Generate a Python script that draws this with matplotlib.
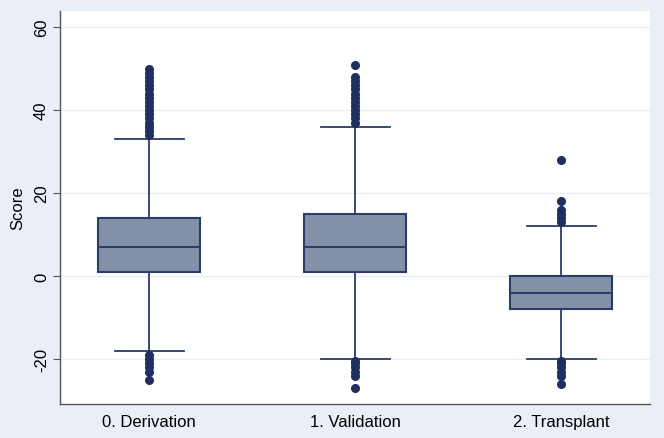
import matplotlib
matplotlib.use("Agg")
import matplotlib.pyplot as plt

plt.rcParams["font.family"] = ["Liberation Sans", "DejaVu Sans"]

categories = ["0. Derivation", "1. Validation", "2. Transplant"]
q1 = [1, 1, -8]
median = [7, 7, -4]
q3 = [14, 15, 0]
whisker_low = [-18, -20, -20]
whisker_high = [33, 36, 12]
outliers = [
    list(range(34, 51)) + [-19, -20, -21, -22, -23, -25],
    list(range(37, 49)) + [51] + [-20.5, -21, -22, -23, -24, -27],
    [13, 14, 15, 16, 18, 28] + [-20.5, -21, -22, -23, -24, -26],
]
yticks = [-20, 0, 20, 40, 60]

navy = "#1F3060"
fill = "#8391A8"
bg = "#EAEEF6"

fig = plt.figure(figsize=(6.64, 4.39), dpi=100)
fig.patch.set_facecolor(bg)
ax = fig.add_axes([0.0904, 0.0774, 0.8886, 0.8953])
ax.set_facecolor("white")

stats = []
for i in range(len(categories)):
    stats.append(dict(med=median[i], q1=q1[i], q3=q3[i], whislo=whisker_low[i],
                      whishi=whisker_high[i], fliers=outliers[i], label=categories[i]))

ax.bxp(stats, positions=[1, 2, 3], widths=0.495, patch_artist=True,
       boxprops=dict(facecolor=fill, edgecolor="#2B3C66", linewidth=1.5),
       medianprops=dict(color="#2B3C66", linewidth=1.5),
       whiskerprops=dict(color="#2B3C66", linewidth=1.3),
       capprops=dict(color="#2B3C66", linewidth=1.3),
       capwidths=0.335,
       flierprops=dict(marker="o", markerfacecolor=navy, markeredgecolor=navy,
                       markersize=5.5, linestyle="none"))

ax.set_xlim(0.568, 3.432)
ax.set_ylim(-30.8, 63.9)
ax.set_yticks(yticks)
ax.set_yticklabels([str(t) for t in yticks], rotation=90, va="center", fontsize=12)
ax.tick_params(axis="y", length=5, color="#555555", pad=3)
ax.tick_params(axis="x", length=0, labelsize=12, pad=7)
ax.set_ylabel("Score", fontsize=12, labelpad=6)
ax.grid(axis="y", color="#EAEEF5", linewidth=1)
ax.set_axisbelow(True)
for s in ["top", "right"]:
    ax.spines[s].set_visible(False)
for s in ["left", "bottom"]:
    ax.spines[s].set_color("#555555")
    ax.spines[s].set_linewidth(1)

fig.savefig("out.png", dpi=100, facecolor=bg)
